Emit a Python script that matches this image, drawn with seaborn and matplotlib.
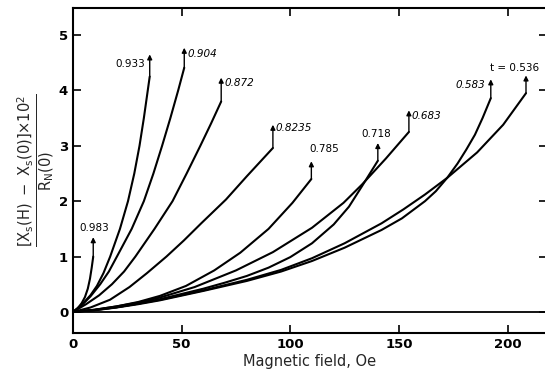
import numpy as np
import pandas as pd
import matplotlib
matplotlib.use("Agg")
import matplotlib.pyplot as plt
import seaborn as sns

# ---- data (H in Oe, normalized reactance x 10^2) ----
t_labels = ["0.983", "0.933", "0.904", "0.872", "0.8235", "0.785",
            "0.718", "0.683", "0.583", "t = 0.536"]

h_0983 = [0, 2, 4, 5.5, 6.8, 7.8, 8.6, 9.3]
y_0983 = [0, 0.06, 0.16, 0.27, 0.42, 0.6, 0.8, 1.0]

h_0933 = [0, 4, 8, 11, 14, 17.1, 21.6, 25.3, 28.2, 30.6, 32.6, 34.4, 35.3]
y_0933 = [0, 0.13, 0.3, 0.47, 0.7, 1.0, 1.5, 2.0, 2.5, 3.0, 3.5, 4.0, 4.25]

h_0904 = [0, 4, 8, 12.5, 16.5, 20.2, 27.0, 32.6, 37.0, 41.0, 44.8, 48.4, 51.2]
y_0904 = [0, 0.12, 0.28, 0.5, 0.73, 1.0, 1.5, 2.0, 2.5, 3.0, 3.5, 4.0, 4.41]

h_0872 = [0, 6, 12, 17.9, 23.5, 28.7, 37.5, 45.8, 52.3, 58.6, 63.5, 68.2]
y_0872 = [0, 0.14, 0.3, 0.5, 0.73, 1.0, 1.5, 2.0, 2.5, 3.0, 3.4, 3.8]

h_08235 = [0, 8, 17, 26, 34, 43, 51, 59, 70.4, 80, 92]
y_08235 = [0, 0.08, 0.22, 0.45, 0.7, 1.0, 1.29, 1.6, 2.03, 2.45, 2.96]

h_0785 = [0, 10, 20, 30, 40, 52, 65, 77, 90, 101, 109.7]
y_0785 = [0, 0.04, 0.1, 0.18, 0.29, 0.47, 0.75, 1.07, 1.5, 1.97, 2.4]

h_0718 = [0, 10, 20, 30, 40, 60, 70, 80, 90, 100, 110, 120, 127, 133, 140.3]
y_0718 = [0, 0.035, 0.085, 0.15, 0.23, 0.42, 0.53, 0.65, 0.8, 0.99, 1.24, 1.58, 1.9, 2.27, 2.73]

h_0683 = [0, 10, 20, 30, 40, 56, 75, 92, 110, 124.5, 133, 144, 154.6]
y_0683 = [0, 0.04, 0.1, 0.17, 0.26, 0.45, 0.75, 1.08, 1.52, 1.97, 2.3, 2.77, 3.25]

h_0583 = [0, 10, 20, 30, 40, 60, 80, 95.8, 110, 125, 142, 151.4, 162, 167,
          172.2, 177, 181, 185, 188.5, 192.3]
y_0583 = [0, 0.03, 0.08, 0.14, 0.21, 0.38, 0.56, 0.73, 0.92, 1.16, 1.48, 1.69, 2.0, 2.18,
          2.42, 2.68, 2.93, 3.2, 3.5, 3.86]

h_0536 = [0, 10, 20, 30, 40, 60, 80, 95.8, 110, 125, 142, 152, 162, 172.2, 186, 198, 208.5]
y_0536 = [0, 0.035, 0.085, 0.15, 0.22, 0.39, 0.58, 0.76, 0.97, 1.24, 1.6, 1.85, 2.12, 2.42,
          2.88, 3.38, 3.95]

hs = [h_0983, h_0933, h_0904, h_0872, h_08235, h_0785, h_0718, h_0683, h_0583, h_0536]
ys = [y_0983, y_0933, y_0904, y_0872, y_08235, y_0785, y_0718, y_0683, y_0583, y_0536]

# arrow tops (y) above curve ends
arrow_top = [1.35, 4.65, 4.77, 4.23, 3.38, 2.72, 3.05, 3.64, 4.20, 4.27]

rows = []
for lab, h, y in zip(t_labels, hs, ys):
    for i, (a, b) in enumerate(zip(h, y)):
        rows.append({"curve": lab, "H": a, "Y": b, "order": i})
df = pd.DataFrame(rows)

# ---- figure ----
sns.set_style("ticks")
plt.rcParams["font.family"] = ["DejaVu Sans"]
plt.rcParams["mathtext.fontset"] = "dejavusans"

fig = plt.figure(figsize=(5.45, 3.75), dpi=100)
ax = fig.add_axes([0.134, 0.112, 0.869, 0.867])

sns.lineplot(data=df, x="H", y="Y", hue="curve", units="curve", estimator=None,
             sort=False, palette=["black"] * len(t_labels), legend=False,
             linewidth=1.5, ax=ax)

ax.axhline(0, color="black", lw=1.3)

# arrows and labels
label_pos = {
    "0.983": (9.6, 1.52, "center", "normal"),
    "0.933": (33.0, 4.48, "right", "normal"),
    "0.904": (52.6, 4.66, "left", "italic"),
    "0.872": (69.6, 4.14, "left", "italic"),
    "0.8235": (93.0, 3.33, "left", "italic"),
    "0.785": (109.0, 2.95, "left", "normal"),
    "0.718": (139.5, 3.22, "center", "normal"),
    "0.683": (155.8, 3.54, "left", "italic"),
    "0.583": (189.7, 4.10, "right", "italic"),
    "t = 0.536": (214.5, 4.41, "right", "normal"),
}
for lab, h, y, top in zip(t_labels, hs, ys, arrow_top):
    ax.annotate("", xy=(h[-1], top), xytext=(h[-1], y[-1]),
                arrowprops=dict(arrowstyle="-|>", color="black", lw=1.0,
                                mutation_scale=7, shrinkA=0, shrinkB=0))
    tx, ty, ha, st = label_pos[lab]
    ax.text(tx, ty, lab, ha=ha, va="center", fontsize=7.5, style=st,
            color="black")

ax.set_xlim(0, 218)
ax.set_ylim(-0.38, 5.49)
ax.set_xticks([0, 50, 100, 150, 200])
ax.set_xticklabels(["0", "50", "100", "150", "200"])
ax.set_yticks([0, 1, 2, 3, 4, 5])
ax.set_yticklabels(["0", "1", "2", "3", "4", "5"])
ax.tick_params(direction="in", length=6, width=1.2, labelsize=9.5,
               top=True, right=True, colors="black")
for lab in ax.get_xticklabels() + ax.get_yticklabels():
    lab.set_fontweight("bold")
for s in ax.spines.values():
    s.set_linewidth(1.5)
    s.set_color("black")

ax.set_xlabel("Magnetic field, Oe", fontsize=10.5, labelpad=2)
ax.set_ylabel(r"$\frac{\left[\mathrm{X_s(H)}\ -\ \mathrm{X_s(0)}\right]\mathrm{\times 10^2}}"
              r"{\mathrm{R_N(0)}}$",
              fontsize=15, labelpad=2)

fig.savefig("out.png", dpi=100)
